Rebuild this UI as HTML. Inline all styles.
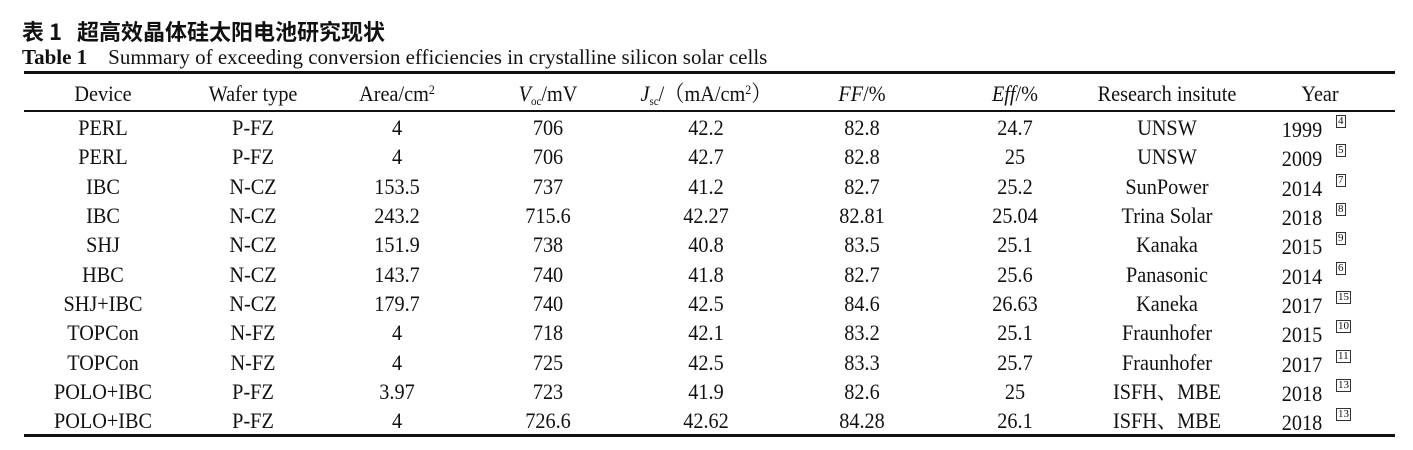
<!DOCTYPE html>
<html><head><meta charset="utf-8"><style>
body{margin:0;width:1413px;height:450px;background:#fff;position:relative;overflow:hidden;font-family:"Liberation Serif","Noto Serif CJK SC",serif;color:#111}
.t{position:absolute;white-space:nowrap;font-size:22px;line-height:22px;transform:translateX(-50%) scaleX(.92)}
.r{position:absolute;left:24px;width:1371px;background:#111}
sup{font-size:13px;vertical-align:7px;line-height:0}
sub{font-size:12px;vertical-align:-4px;line-height:0}
i{font-style:italic}
</style></head><body>
<div style="position:absolute;left:22px;top:15px;font-size:22px;font-weight:bold;font-family:'Noto Sans CJK SC',sans-serif">表 1&nbsp;&nbsp;&nbsp;超高效晶体硅太阳电池研究现状</div>
<div style="position:absolute;left:22px;top:45px;font-size:21px"><b>Table 1</b>&nbsp;&nbsp;&nbsp; Summary of exceeding conversion efficiencies in crystalline silicon solar cells</div>
<div class="r" style="top:71px;height:3px"></div>
<div class="r" style="top:110px;height:1.5px"></div>
<div class="r" style="top:434px;height:3px"></div>
<div id="c"></div>
<script>
const cx=[103,253,397,548,706,862,1015,1167,1320];
const hd=['Device','Wafer type','Area/cm<sup>2</sup>','<i>V</i><sub>oc</sub>/mV','<i>J</i><sub>sc</sub>/（mA/cm<sup>2</sup>）','<i>FF</i>/%','<i>Eff</i>/%','Research insitute','Year'];
const rows=[
['PERL','P-FZ','4','706','42.2','82.8','24.7','UNSW','1999','4'],
['PERL','P-FZ','4','706','42.7','82.8','25','UNSW','2009','5'],
['IBC','N-CZ','153.5','737','41.2','82.7','25.2','SunPower','2014','7'],
['IBC','N-CZ','243.2','715.6','42.27','82.81','25.04','Trina Solar','2018','8'],
['SHJ','N-CZ','151.9','738','40.8','83.5','25.1','Kanaka','2015','9'],
['HBC','N-CZ','143.7','740','41.8','82.7','25.6','Panasonic','2014','6'],
['SHJ+IBC','N-CZ','179.7','740','42.5','84.6','26.63','Kaneka','2017','15'],
['TOPCon','N-FZ','4','718','42.1','83.2','25.1','Fraunhofer','2015','10'],
['TOPCon','N-FZ','4','725','42.5','83.3','25.7','Fraunhofer','2017','11'],
['POLO+IBC','P-FZ','3.97','723','41.9','82.6','25','ISFH、MBE','2018','13'],
['POLO+IBC','P-FZ','4','726.6','42.62','84.28','26.1','ISFH、MBE','2018','13']];
let h='';
hd.forEach((t,i)=>h+=`<div class="t" style="left:${cx[i]}px;top:83px">${t}</div>`);
const ys=[117,146,176,205,234,264,293,322,352,381,410];
rows.forEach((r,j)=>{for(let i=0;i<9;i++){let t=r[i];
if(i==8){h+=`<div class="t" style="left:1302px;top:${ys[j]+2}px">${t}</div><div style="position:absolute;left:1336px;top:${ys[j]-2}px;font-size:11px;border:1px solid #333;padding:0 1px;line-height:11px">${r[9]}</div>`;}
else h+=`<div class="t" style="left:${cx[i]}px;top:${ys[j]}px">${t}</div>`;}});
document.getElementById('c').innerHTML=h;
</script>
</body></html>
